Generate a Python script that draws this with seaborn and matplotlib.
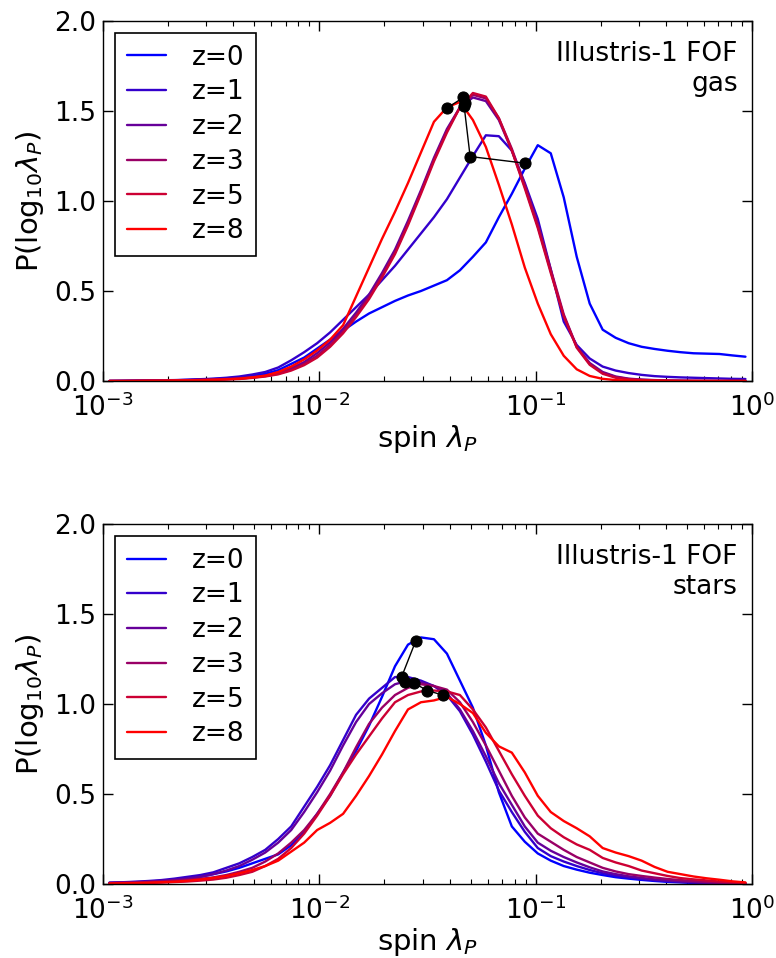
import numpy as np
import pandas as pd
import matplotlib
matplotlib.use('Agg')
import matplotlib.pyplot as plt
import seaborn as sns

### histogram grid: 50 log bins between 1e-3 and 1
bin_edges = np.linspace(-3, 0, 51)
log_lam = 0.5 * (bin_edges[1:] + bin_edges[:-1])
lam = 10 ** log_lam

redshifts = [0, 1, 2, 3, 5, 8]
colors = ['#0000ff', '#3300cc', '#660099', '#990066', '#cc0033', '#ff0000']

## gas spin distributions, one list per redshift
gas_z0 = [0.0, 0.0, 0.001, 0.002, 0.003, 0.004, 0.006, 0.008, 0.011, 0.015,
          0.02, 0.027, 0.04, 0.06, 0.095, 0.13, 0.18, 0.23, 0.28, 0.33,
          0.375, 0.41, 0.445, 0.475, 0.50, 0.53, 0.56, 0.615, 0.69, 0.77,
          0.91, 1.04, 1.18, 1.31, 1.265, 1.02, 0.69, 0.43, 0.285, 0.24,
          0.21, 0.19, 0.178, 0.168, 0.16, 0.154, 0.152, 0.15, 0.142, 0.135]
gas_z1 = [0.0, 0.001, 0.002, 0.003, 0.004, 0.005, 0.007, 0.01, 0.013, 0.018,
          0.025, 0.036, 0.05, 0.075, 0.115, 0.16, 0.21, 0.27, 0.34, 0.41,
          0.48, 0.56, 0.64, 0.73, 0.82, 0.91, 1.01, 1.13, 1.25, 1.365,
          1.36, 1.28, 1.10, 0.90, 0.62, 0.33, 0.20, 0.125, 0.08, 0.058,
          0.044, 0.034, 0.027, 0.023, 0.02, 0.018, 0.016, 0.014, 0.012, 0.011]
gas_z2 = [0.0, 0.001, 0.001, 0.002, 0.003, 0.004, 0.005, 0.007, 0.009, 0.012,
          0.016, 0.022, 0.03, 0.045, 0.07, 0.105, 0.155, 0.215, 0.29, 0.38,
          0.48, 0.60, 0.73, 0.89, 1.06, 1.24, 1.40, 1.52, 1.575, 1.555,
          1.45, 1.28, 1.08, 0.86, 0.61, 0.36, 0.19, 0.10, 0.05, 0.025,
          0.013, 0.008, 0.005, 0.003, 0.002, 0.001, 0.001, 0.0, 0.0, 0.0]
gas_z3 = [0.0, 0.0, 0.001, 0.002, 0.002, 0.003, 0.004, 0.006, 0.008, 0.01,
          0.013, 0.019, 0.027, 0.04, 0.063, 0.095, 0.14, 0.20, 0.275, 0.365,
          0.465, 0.585, 0.715, 0.875, 1.05, 1.23, 1.39, 1.52, 1.59, 1.57,
          1.46, 1.29, 1.09, 0.87, 0.62, 0.37, 0.19, 0.095, 0.045, 0.022,
          0.011, 0.006, 0.004, 0.002, 0.001, 0.001, 0.0, 0.0, 0.0, 0.0]
gas_z5 = [0.0, 0.0, 0.001, 0.001, 0.002, 0.003, 0.004, 0.005, 0.007, 0.009,
          0.011, 0.017, 0.025, 0.037, 0.058, 0.088, 0.13, 0.19, 0.265, 0.355,
          0.455, 0.575, 0.705, 0.865, 1.04, 1.22, 1.38, 1.52, 1.60, 1.58,
          1.46, 1.28, 1.07, 0.85, 0.60, 0.36, 0.185, 0.09, 0.04, 0.018,
          0.009, 0.005, 0.003, 0.002, 0.001, 0.0, 0.0, 0.0, 0.0, 0.0]
gas_z8 = [0.0, 0.0, 0.0, 0.001, 0.001, 0.002, 0.003, 0.004, 0.006, 0.009,
          0.013, 0.02, 0.03, 0.05, 0.08, 0.12, 0.17, 0.23, 0.31, 0.47,
          0.63, 0.79, 0.94, 1.10, 1.27, 1.44, 1.52, 1.55, 1.45, 1.30,
          1.09, 0.87, 0.63, 0.43, 0.26, 0.14, 0.065, 0.028, 0.012, 0.005,
          0.002, 0.001, 0.001, 0.0, 0.0, 0.0, 0.0, 0.0, 0.0, 0.0]

## stellar spin distributions
stars_z0 = [0.005, 0.006, 0.009, 0.012, 0.016, 0.022, 0.03, 0.04, 0.055, 0.07,
            0.09, 0.115, 0.14, 0.165, 0.215, 0.29, 0.39, 0.49, 0.62, 0.74,
            0.88, 1.04, 1.21, 1.33, 1.37, 1.36, 1.28, 1.13, 0.98, 0.77,
            0.51, 0.32, 0.235, 0.17, 0.13, 0.10, 0.08, 0.063, 0.05, 0.038,
            0.03, 0.023, 0.017, 0.012, 0.009, 0.006, 0.004, 0.003, 0.002, 0.001]
stars_z1 = [0.008, 0.01, 0.013, 0.017, 0.022, 0.03, 0.04, 0.05, 0.065, 0.09,
            0.115, 0.15, 0.19, 0.25, 0.32, 0.43, 0.54, 0.66, 0.80, 0.94,
            1.03, 1.09, 1.15, 1.15, 1.13, 1.10, 1.05, 0.96, 0.83, 0.68,
            0.52, 0.40, 0.29, 0.20, 0.155, 0.125, 0.10, 0.078, 0.06, 0.046,
            0.036, 0.028, 0.021, 0.016, 0.012, 0.009, 0.006, 0.004, 0.003, 0.002]
stars_z2 = [0.007, 0.009, 0.011, 0.014, 0.018, 0.023, 0.03, 0.04, 0.055, 0.075,
            0.10, 0.135, 0.175, 0.23, 0.30, 0.40, 0.51, 0.63, 0.77, 0.90,
            1.00, 1.06, 1.11, 1.13, 1.12, 1.10, 1.06, 0.97, 0.85, 0.71,
            0.56, 0.44, 0.32, 0.23, 0.185, 0.15, 0.12, 0.093, 0.07, 0.055,
            0.043, 0.034, 0.026, 0.02, 0.015, 0.011, 0.008, 0.006, 0.004, 0.003]
stars_z3 = [0.005, 0.007, 0.009, 0.011, 0.014, 0.018, 0.023, 0.029, 0.037, 0.05,
            0.068, 0.09, 0.125, 0.17, 0.23, 0.30, 0.39, 0.50, 0.62, 0.76,
            0.89, 0.98, 1.05, 1.09, 1.11, 1.10, 1.08, 1.01, 0.90, 0.77,
            0.63, 0.49, 0.37, 0.28, 0.235, 0.19, 0.15, 0.12, 0.09, 0.07,
            0.055, 0.045, 0.036, 0.028, 0.022, 0.017, 0.012, 0.009, 0.006, 0.004]
stars_z5 = [0.003, 0.004, 0.005, 0.006, 0.008, 0.011, 0.014, 0.019, 0.025, 0.035,
            0.05, 0.068, 0.10, 0.14, 0.20, 0.28, 0.38, 0.49, 0.61, 0.72,
            0.82, 0.92, 1.01, 1.05, 1.07, 1.075, 1.07, 1.05, 0.97, 0.87,
            0.74, 0.61, 0.49, 0.38, 0.31, 0.26, 0.22, 0.19, 0.145, 0.12,
            0.10, 0.075, 0.06, 0.045, 0.033, 0.026, 0.02, 0.014, 0.01, 0.006]
stars_z8 = [0.003, 0.004, 0.005, 0.007, 0.01, 0.013, 0.018, 0.025, 0.034, 0.045,
            0.06, 0.078, 0.10, 0.13, 0.18, 0.23, 0.30, 0.34, 0.39, 0.49,
            0.60, 0.72, 0.85, 0.97, 1.01, 1.02, 1.04, 1.00, 0.95, 0.84,
            0.765, 0.73, 0.62, 0.49, 0.40, 0.35, 0.31, 0.265, 0.20, 0.175,
            0.155, 0.13, 0.095, 0.068, 0.055, 0.042, 0.032, 0.024, 0.015, 0.009]

## black dots (median spin per redshift), joined in redshift order
gas_med_lam = [0.0893, 0.0498, 0.0467, 0.0472, 0.0463, 0.0389]
gas_med_p = [1.21, 1.247, 1.53, 1.547, 1.575, 1.516]
stars_med_lam = [0.0279, 0.0240, 0.0248, 0.0275, 0.0316, 0.0372]
stars_med_p = [1.35, 1.15, 1.125, 1.115, 1.075, 1.05]

gas = [gas_z0, gas_z1, gas_z2, gas_z3, gas_z5, gas_z8]
stars = [stars_z0, stars_z1, stars_z2, stars_z3, stars_z5, stars_z8]

sns.set_style('ticks')
plt.rcParams['font.family'] = ['DejaVu Sans']
plt.rcParams['axes.unicode_minus'] = False
plt.rcParams['xtick.direction'] = 'in'
plt.rcParams['ytick.direction'] = 'in'
for key in ['text.color', 'axes.labelcolor', 'xtick.color', 'ytick.color',
            'xtick.labelcolor', 'ytick.labelcolor', 'axes.edgecolor']:
    plt.rcParams[key] = 'black'

FS = 19     # ticks, legend, annotation
LFS = 21    # axis labels

fig = plt.figure(figsize=(7.76, 9.58), dpi=100)
ax_top = fig.add_axes([0.1327, 0.6023, 0.8363, 0.3758])
ax_bot = fig.add_axes([0.1327, 0.0772, 0.8363, 0.3758])


def draw_panel(ax, curves, med_lam, med_p, kind):
    for z, c, vals in zip(redshifts, colors, curves):
        sns.lineplot(x=lam, y=vals, color=c, lw=1.7, label='z=%d' % z, ax=ax)
    sns.lineplot(x=med_lam, y=med_p, sort=False, color='k', lw=1.0,
                 marker='o', markersize=8, markeredgecolor='k', ax=ax,
                 zorder=5, legend=False)
    ax.set_xscale('log')
    ax.set_xlim(1e-3, 1)
    ax.set_ylim(0, 2)
    ax.set_yticks([0, 0.5, 1.0, 1.5, 2.0])
    ax.set_yticklabels(['0.0', '0.5', '1.0', '1.5', '2.0'])
    ax.tick_params(which='both', top=True, right=True, labelsize=FS, color='k')
    ax.tick_params(which='major', length=7, width=1)
    ax.tick_params(axis='y', which='major', pad=5)
    ax.tick_params(axis='x', which='major', pad=9)
    ax.tick_params(which='minor', length=3.5, width=0.8)
    ax.tick_params(axis='y', which='minor', left=False, right=False)
    for s in ax.spines.values():
        s.set_color('k')
        s.set_linewidth(1.0)
    ax.set_xlabel(r'spin $\lambda_P$', fontsize=LFS, labelpad=1)
    ax.set_ylabel(r'P(log$_{10}\lambda_P$)', fontsize=LFS, labelpad=6)
    leg = ax.legend(loc='upper left', fontsize=FS, frameon=True, fancybox=False,
                    framealpha=1, edgecolor='k', handlelength=1.5,
                    handletextpad=0.95, labelspacing=0.33, borderpad=0.45,
                    borderaxespad=0.45)
    leg.get_frame().set_linewidth(1.2)
    ax.text(0.978, 0.945, 'Illustris-1 FOF\n' + kind, transform=ax.transAxes,
            ha='right', va='top', fontsize=FS, linespacing=1.2)


draw_panel(ax_top, gas, gas_med_lam, gas_med_p, 'gas')
draw_panel(ax_bot, stars, stars_med_lam, stars_med_p, 'stars')

fig.savefig('out.png', dpi=100)
